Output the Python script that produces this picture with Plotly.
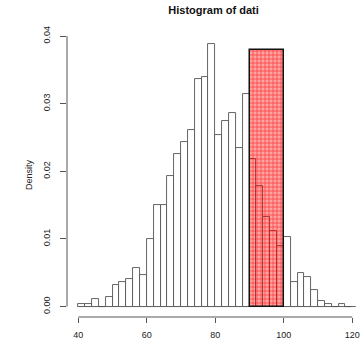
import plotly.graph_objects as go

# Histogram bins (left edges, width 2) and densities
bin_left = list(range(40, 120, 2))
density = [
    0.0003, 0.0003, 0.00107, 0.0, 0.00136, 0.0032, 0.0036, 0.0040, 0.0057, 0.0046,
    0.0100, 0.0150, 0.0150, 0.0193, 0.0225, 0.0243, 0.0261, 0.0336, 0.0339, 0.0389,
    0.0253, 0.0274, 0.0286, 0.0235, 0.0314, 0.0218, 0.0178, 0.0132, 0.0111, 0.0089,
    0.0103, 0.0036, 0.0050, 0.0043, 0.0025, 0.00077, 0.0003, 0.0, 0.0003, 0.0,
]
bin_width = 2

# Highlighted rectangle
hl_start, hl_end, hl_height = 90, 100, 0.038

x_ticks = [40, 60, 80, 100, 120]
y_ticks = [0.00, 0.01, 0.02, 0.03, 0.04]
y_ticklabels = ["0.00", "0.01", "0.02", "0.03", "0.04"]

FONT = "Liberation Sans, Arial, sans-serif"
LINE = "#555555"

centers = [b + bin_width / 2 for b in bin_left]

fig = go.Figure()
fig.add_trace(go.Bar(
    x=centers, y=density, width=[bin_width] * len(centers),
    marker=dict(color="white", line=dict(color=LINE, width=0.9)),
    hoverinfo="skip", showlegend=False,
))
fig.add_trace(go.Bar(
    x=[(hl_start + hl_end) / 2], y=[hl_height], width=[hl_end - hl_start],
    marker=dict(
        color="rgba(255,0,0,0.35)",
        line=dict(color="#111111", width=1.5),
        pattern=dict(shape="+", bgcolor="rgba(255,0,0,0.36)",
                     fgcolor="rgba(255,0,0,0.7)", size=4, solidity=0.3,
                     fillmode="replace"),
    ),
    hoverinfo="skip", showlegend=False,
))

fig.update_layout(
    width=360, height=343,
    margin=dict(l=67, r=0, t=33, b=26),
    paper_bgcolor="white", plot_bgcolor="white",
    barmode="overlay", bargap=0,
    font=dict(family=FONT, size=9, color="#222222"),
    title=dict(text="<b>Histogram of dati</b>", font=dict(size=11, color="#111111"),
               x=0.5, xref="paper", xanchor="center",
               y=1 - 10 / 343, yref="container", yanchor="middle"),
    xaxis=dict(range=[36.70, 122.25], tickvals=x_ticks, ticks="outside", ticklen=5,
               tickcolor=LINE, showline=False, showgrid=False, zeroline=False,
               ticklabelstandoff=4, tickfont=dict(size=9)),
    yaxis=dict(range=[-0.001553, 0.04046], tickvals=y_ticks, ticktext=y_ticklabels,
               tickangle=-90, ticks="outside", ticklen=6, tickcolor=LINE,
               showline=False, showgrid=False, zeroline=False,
               ticklabelstandoff=6, tickfont=dict(size=9),
               title=dict(text="Density", font=dict(size=9), standoff=8)),
    shapes=[
        dict(type="line", xref="x", yref="paper", x0=x_ticks[0], x1=x_ticks[-1],
             y0=0, y1=0, line=dict(color=LINE, width=1), layer="above"),
        dict(type="line", xref="paper", yref="y", x0=0, x1=0,
             y0=y_ticks[0], y1=y_ticks[-1], line=dict(color=LINE, width=1), layer="above"),
        dict(type="line", xref="x", yref="y", x0=bin_left[0], x1=121,
             y0=0, y1=0, line=dict(color=LINE, width=0.9), layer="below"),
    ],
)

fig.write_html("out.html")
